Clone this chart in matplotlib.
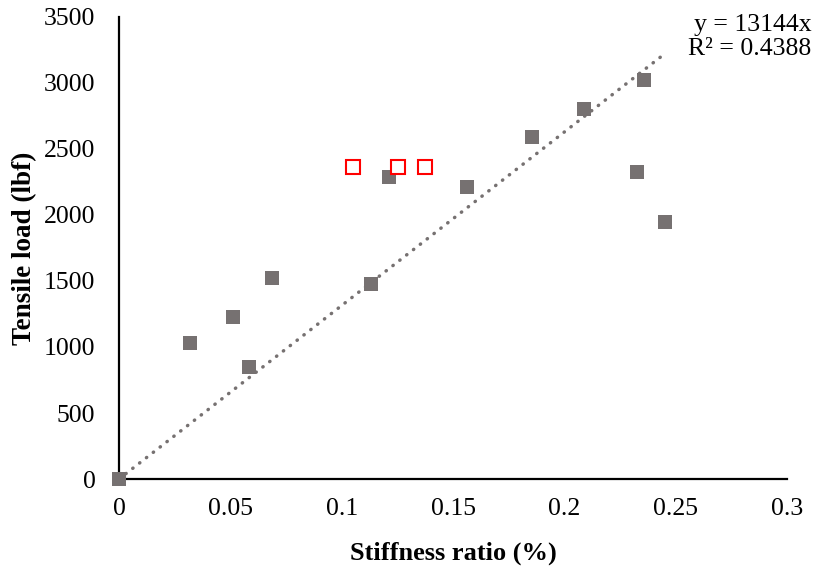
import numpy as np
import matplotlib
matplotlib.use("Agg")
from matplotlib import pyplot as plt

# tensile test results
stiffness = [0.0, 0.0319, 0.0512, 0.0584, 0.0687, 0.1132, 0.1213, 0.1563,
             0.1855, 0.2088, 0.2358, 0.2326, 0.2452]
load = [0, 1030, 1227, 848, 1523, 1477, 2288, 2212, 2591, 2803, 3023, 2326, 1947]

# specimens marked separately (red outline)
stiffness_out = [0.1051, 0.1253, 0.1374]
load_out = [2364, 2364, 2364]

slope = 13144
r2 = 0.4388

gray = "#767171"
plt.rcParams["font.family"] = ["Liberation Serif", "DejaVu Serif"]

fig = plt.figure(figsize=(8.17, 5.66), dpi=100)
ax = fig.add_axes([0.1457, 0.1537, 0.8176, 0.8163])

x_fit = np.array([0, max(stiffness)])
ax.plot(x_fit, slope * x_fit, color=gray, linewidth=2.5,
        linestyle=(0, (0.1, 2.4)), dash_capstyle="round", zorder=1)

ax.plot(stiffness, load, linestyle="none", marker="s", markersize=10,
        color=gray, markeredgewidth=0, zorder=3, clip_on=False)
ax.plot(stiffness_out, load_out, linestyle="none", marker="s", markersize=9.5,
        markerfacecolor="white", markeredgecolor="#ff0000",
        markeredgewidth=1.5, zorder=3)

ax.set_xlim(0, 0.3)
ax.set_ylim(0, 3500)
ax.set_xticks(np.arange(0, 0.31, 0.05))
ax.set_xticklabels(["0", "0.05", "0.1", "0.15", "0.2", "0.25", "0.3"])
ax.set_yticks(np.arange(0, 3501, 500))
ax.tick_params(length=0, labelsize=18.5, pad=14)
ax.tick_params(axis="y", pad=17)

for side in ["top", "right"]:
    ax.spines[side].set_visible(False)
for side in ["left", "bottom"]:
    ax.spines[side].set_linewidth(1.6)
    ax.spines[side].set_color("black")

ax.set_xlabel("Stiffness ratio (%)", fontsize=19, fontweight="bold", labelpad=15)
ax.set_ylabel("Tensile load (lbf)", fontsize=19.5, fontweight="bold", labelpad=5)

fig.text(0.993, 0.935, f"y = {slope}x\nR² = {r2}", ha="right", va="center",
         fontsize=18.5, linespacing=1.15)

fig.savefig("out.png", dpi=100)
